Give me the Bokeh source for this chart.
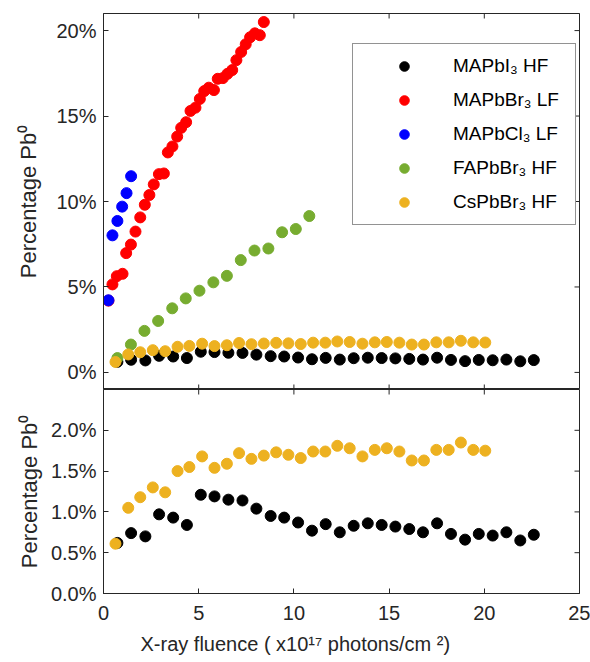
import math
from bokeh.plotting import figure
from bokeh.layouts import column
from bokeh.models import Range1d, FixedTicker, PrintfTickFormatter, Legend, LegendItem, Title
from bokeh.embed import file_html
from bokeh.resources import INLINE

# ---------------- data (percent values) ----------------
mapbi3_x = [0.73, 1.45, 2.2, 2.92, 3.66, 4.38, 5.11, 5.83, 6.56, 7.3, 8.03, 8.78, 9.49, 10.22, 10.95,
            11.67, 12.41, 13.14, 13.88, 14.61, 15.33, 16.06, 16.78, 17.52, 18.25, 18.99, 19.71, 20.44,
            21.16, 21.89, 22.6]
mapbi3_y = [0.62, 0.74, 0.70, 0.97, 0.93, 0.84, 1.21, 1.19, 1.15, 1.14, 1.04, 0.95, 0.93, 0.87, 0.77,
            0.85, 0.75, 0.83, 0.86, 0.84, 0.82, 0.79, 0.75, 0.86, 0.73, 0.66, 0.73, 0.71,
            0.75, 0.65, 0.72]

mapbbr3_x = [0.26, 0.47, 0.70, 1.0, 1.19, 1.44, 1.68, 1.93, 2.17, 2.41, 2.64, 2.91, 3.17, 3.38, 3.62,
             3.87, 4.08, 4.34, 4.57, 4.83, 5.06, 5.29, 5.53, 5.80, 6.0, 6.27, 6.51, 6.76, 6.98,
             7.23, 7.47, 7.70, 7.95, 8.21, 8.42]
mapbbr3_y = [4.2, 5.15, 5.63, 5.77, 6.98, 7.48, 8.24, 9.07, 9.81, 10.38, 11.0, 11.6, 11.64, 12.87, 13.22,
             13.80, 14.31, 14.64, 15.30, 15.49, 16.0, 16.46, 16.66, 16.52, 17.18, 17.22, 17.47, 17.69, 18.27,
             18.75, 19.2, 19.61, 19.84, 19.73, 20.5]

mapbcl3_x = [0.26, 0.47, 0.73, 0.98, 1.21, 1.45]
mapbcl3_y = [4.22, 8.02, 8.86, 9.70, 10.49, 11.48]

fapbbr3_x = [0.73, 1.44, 2.15, 2.87, 3.61, 4.32, 5.04, 5.77, 6.48, 7.21, 7.93, 8.66, 9.38, 10.10, 10.81]
fapbbr3_y = [0.84, 1.63, 2.43, 3.01, 3.75, 4.33, 4.78, 5.27, 5.65, 6.57, 7.13, 7.25, 8.20, 8.39, 9.15]

cspbbr3_x = [0.63, 1.30, 1.93, 2.59, 3.24, 3.89, 4.51, 5.18, 5.83, 6.48, 7.12, 7.77, 8.42, 9.07, 9.71,
             10.36, 11.01, 11.65, 12.28, 12.93, 13.6, 14.25, 14.88, 15.54, 16.19, 16.83, 17.48, 18.13,
             18.77, 19.42, 20.05]
cspbbr3_y = [0.61, 1.05, 1.18, 1.30, 1.24, 1.50, 1.55, 1.68, 1.54, 1.59, 1.72, 1.65, 1.69, 1.73, 1.70,
             1.66, 1.74, 1.74, 1.81, 1.78, 1.68, 1.76, 1.78, 1.74, 1.63, 1.63, 1.76, 1.76,
             1.85, 1.76, 1.75]

labels = ["MAPbI₃ HF", "MAPbBr₃ LF", "MAPbCl₃ LF", "FAPbBr₃ HF", "CsPbBr₃ HF"]
colors = ["#000000", "#FF0000", "#0000FF", "#77AC30", "#EDB120"]

x_range = (0, 25)
top_y_range = (-1, 21)
bot_y_range = (0, 2.5)
x_ticks = [0, 5, 10, 15, 20, 25]
top_y_ticks = [0, 5, 10, 15, 20]
bot_y_ticks = [0, 0.5, 1.0, 1.5, 2.0]

y_label = "Percentage Pb⁰"
x_label = "X-ray fluence ( x10¹⁷ photons/cm ²)"

FONT = "Liberation Sans"
AX = "#262626"
TICK_FS = "20px"
LABEL_FS = "22px"
MS = 11
TICK_LEN = 10  # dash marker length; half is clipped by the frame


def style_axis(ax, ticks):
    ax.ticker = FixedTicker(ticks=ticks)
    ax.minor_tick_line_color = None
    ax.major_tick_in = 5
    ax.major_tick_out = 0
    ax.axis_line_color = AX
    ax.major_tick_line_color = AX
    ax.major_label_text_color = AX
    ax.major_label_text_font = FONT
    ax.major_label_text_font_size = TICK_FS
    ax.axis_label_text_font = FONT
    ax.axis_label_text_color = AX
    ax.axis_label_text_font_style = "normal"
    ax.axis_label_text_font_size = LABEL_FS


def make_fig(height, yr, border_top, border_bottom):
    p = figure(width=590, height=height, output_backend="svg", toolbar_location=None,
               x_range=Range1d(*x_range), y_range=Range1d(*yr),
               min_border_left=103, min_border_right=11,
               min_border_top=border_top, min_border_bottom=border_bottom)
    p.xgrid.visible = False
    p.ygrid.visible = False
    p.outline_line_color = AX
    p.background_fill_color = "white"
    p.border_fill_color = "white"
    return p


def edge_ticks(p, yr, yt, top_edge=True, bottom_edge=False):
    # inward tick marks on the mirrored box edges (clipped by the frame to half length)
    p.scatter([x_range[1]] * len(yt), yt, marker="dash", size=TICK_LEN,
              line_color=AX, line_width=1)
    if top_edge:
        p.scatter(x_ticks, [yr[1]] * len(x_ticks), marker="dash", angle=math.pi / 2,
                  size=TICK_LEN, line_color=AX, line_width=1)
    if bottom_edge:
        p.scatter(x_ticks, [yr[0]] * len(x_ticks), marker="dash", angle=math.pi / 2,
                  size=TICK_LEN, line_color=AX, line_width=1)


# ---------------- top panel ----------------
top = make_fig(389, top_y_range, 13, 0)
top.xaxis.visible = False
style_axis(top.yaxis[0], top_y_ticks)
top.yaxis[0].formatter = PrintfTickFormatter(format="%d%%")
top.yaxis[0].axis_label = y_label
top.yaxis[0].major_label_standoff = 7
top.yaxis[0].axis_label_standoff = 12
edge_ticks(top, top_y_range, top_y_ticks, top_edge=True, bottom_edge=True)

series = [(mapbi3_x, mapbi3_y), (mapbbr3_x, mapbbr3_y), (mapbcl3_x, mapbcl3_y),
          (fapbbr3_x, fapbbr3_y), (cspbbr3_x, cspbbr3_y)]
items = []
for (xs, ys), c, lab in zip(series, colors, labels):
    r = top.scatter(xs, ys, size=MS, fill_color=c, line_color=c, marker="circle")
    items.append(LegendItem(label=lab, renderers=[r]))

legend = Legend(items=items, location=(249, 164), padding=10, margin=0,
                glyph_width=82, glyph_height=24, label_height=24, label_width=112,
                label_standoff=8, spacing=10,
                label_text_font=FONT, label_text_font_size="19px", label_text_color="#000000",
                border_line_color=AX, border_line_width=1, background_fill_alpha=1.0)
top.add_layout(legend, "center")

# ---------------- bottom panel ----------------
bot = make_fig(273, bot_y_range, 0, 67)
style_axis(bot.xaxis[0], x_ticks)
bot.xaxis[0].major_label_standoff = 12
style_axis(bot.yaxis[0], bot_y_ticks)
bot.yaxis[0].formatter = PrintfTickFormatter(format="%.1f%%")
bot.yaxis[0].axis_label = y_label
bot.yaxis[0].major_label_standoff = 7
bot.yaxis[0].axis_label_standoff = 6
edge_ticks(bot, bot_y_range, bot_y_ticks, top_edge=True, bottom_edge=False)

bot.scatter(mapbi3_x, mapbi3_y, size=MS, fill_color=colors[0], line_color=colors[0], marker="circle")
bot.scatter(cspbbr3_x, cspbbr3_y, size=MS, fill_color=colors[4], line_color=colors[4], marker="circle")

xlab = Title(text=x_label, align="left", offset=37, standoff=16,
             text_font=FONT, text_font_size="20px", text_font_style="normal", text_color=AX)
bot.add_layout(xlab, "below")

layout = column(top, bot, spacing=0)
open("out.html", "w").write(file_html(layout, INLINE))
